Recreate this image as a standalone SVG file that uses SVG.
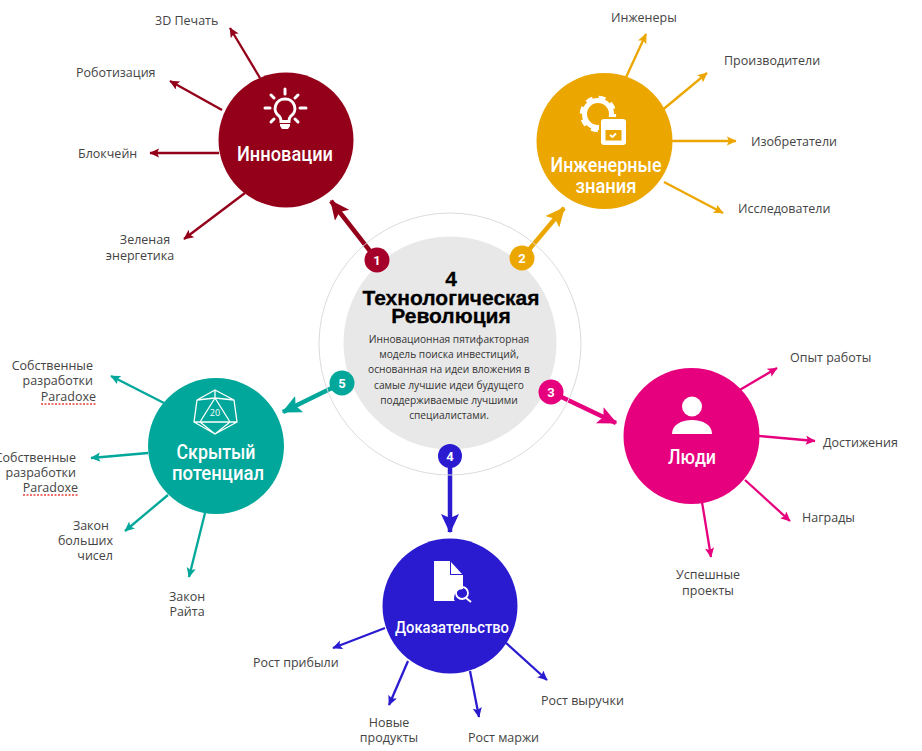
<svg xmlns="http://www.w3.org/2000/svg" width="922" height="751" viewBox="0 0 922 751">
<style>
.l{font:12.5px "Open Sans","Noto Sans",sans-serif;fill:#444}
.m{text-anchor:middle}.e{text-anchor:end}
.t{font:500 20px Roboto,sans-serif;fill:#fff;text-anchor:middle}
.b{font:700 13px Roboto,sans-serif;fill:#fff;text-anchor:middle}
.h{font:700 21px "Liberation Sans",sans-serif;fill:#000;stroke:#000;stroke-width:.3;text-anchor:middle}
.d{font:10.2px "Open Sans","Noto Sans",sans-serif;fill:#333;text-anchor:middle}
.k{fill:none;stroke-linecap:butt}
.n{stroke-width:2.3}.w{stroke-width:4.5}
.r{stroke:#940019}.y{stroke:#eca600}.p{stroke:#e6007e}.u{stroke:#2a1bd0}.g{stroke:#00a79a}
.sq{stroke:#e8403a;stroke-width:1.3;stroke-dasharray:2 1.5;fill:none}
.ic{fill:#fff}.is{fill:none;stroke:#fff;stroke-width:3;stroke-linecap:round;stroke-linejoin:round}
</style>
<defs>
<marker id="ar" markerWidth="5" markerHeight="5" refX="4" refY="2" orient="auto" markerUnits="strokeWidth"><path d="M0 0L4.300 2 0 4 .9 2z" fill="#940019"/></marker>
<marker id="ay" markerWidth="5" markerHeight="5" refX="4" refY="2" orient="auto" markerUnits="strokeWidth"><path d="M0 0L4.300 2 0 4 .9 2z" fill="#eca600"/></marker>
<marker id="ap" markerWidth="5" markerHeight="5" refX="4" refY="2" orient="auto" markerUnits="strokeWidth"><path d="M0 0L4.300 2 0 4 .9 2z" fill="#e6007e"/></marker>
<marker id="au" markerWidth="5" markerHeight="5" refX="4" refY="2" orient="auto" markerUnits="strokeWidth"><path d="M0 0L4.300 2 0 4 .9 2z" fill="#2a1bd0"/></marker>
<marker id="ag" markerWidth="5" markerHeight="5" refX="4" refY="2" orient="auto" markerUnits="strokeWidth"><path d="M0 0L4.300 2 0 4 .9 2z" fill="#00a79a"/></marker>
</defs>
<rect width="922" height="751" fill="#fff"/>
<g id="connectors" class="k">
<path class="k r w" marker-end="url(#ar)" d="M377 260L331 201"/>
<path class="k r n" marker-end="url(#ar)" d="M260 78L230 28"/>
<path class="k r n" marker-end="url(#ar)" d="M222 110L170 81"/>
<path class="k r n" marker-end="url(#ar)" d="M219 153H150"/>
<path class="k r n" marker-end="url(#ar)" d="M245 193L184 239"/>
<path class="k y w" marker-end="url(#ay)" d="M522 258L564 208"/>
<path class="k y n" marker-end="url(#ay)" d="M622 86L646 34"/>
<path class="k y n" marker-end="url(#ay)" d="M660 112L707 73"/>
<path class="k y n" marker-end="url(#ay)" d="M672 141H736"/>
<path class="k y n" marker-end="url(#ay)" d="M664 182L723 213"/>
<path class="k p w" marker-end="url(#ap)" d="M551 392L616 423"/>
<path class="k p n" marker-end="url(#ap)" d="M738 391L777 368"/>
<path class="k p n" marker-end="url(#ap)" d="M759 436L815 441"/>
<path class="k p n" marker-end="url(#ap)" d="M745 480L790 521"/>
<path class="k p n" marker-end="url(#ap)" d="M702 502L711 557"/>
<path class="k u w" marker-end="url(#au)" d="M450 456V532"/>
<path class="k u n" marker-end="url(#au)" d="M385 628L333 648"/>
<path class="k u n" marker-end="url(#au)" d="M408 661L389 705"/>
<path class="k u n" marker-end="url(#au)" d="M470 671L479 717"/>
<path class="k u n" marker-end="url(#au)" d="M505 642L547 680"/>
<path class="k g w" marker-end="url(#ag)" d="M342 383L283 412"/>
<path class="k g n" marker-end="url(#ag)" d="M164 403L111 376"/>
<path class="k g n" marker-end="url(#ag)" d="M148 453L91 458"/>
<path class="k g n" marker-end="url(#ag)" d="M168 495L125 531"/>
<path class="k g n" marker-end="url(#ag)" d="M205 513L189 577"/>
</g>
<g id="center">
<circle cx="450" cy="344" r="131" fill="none" stroke="#dcdcdc" stroke-width="1"/>
<circle cx="450" cy="343" r="106.500" fill="#e8e8e8"/>
<text class="h" x="451" y="286">4</text>
<text class="h" x="451" y="305">Технологическая</text>
<text class="h" x="451" y="323">Революция</text>
<text class="d" x="449" y="343">Инновационная пятифакторная</text>
<text class="d" x="449" y="358">модель поиска инвестиций,</text>
<text class="d" x="449" y="373">основанная на идеи вложения в</text>
<text class="d" x="449" y="389">самые лучшие идеи будущего</text>
<text class="d" x="449" y="404">поддерживаемые лучшими</text>
<text class="d" x="449" y="419">специалистами.</text>
</g>
<g id="badge1"><circle cx="377" cy="260" r="12.500" fill="#a5002a"/><text class="b" x="377" y="265">1</text></g>
<g id="badge2"><circle cx="522" cy="258" r="12.500" fill="#eca600"/><text class="b" x="522" y="263">2</text></g>
<g id="badge3"><circle cx="551" cy="392" r="12.500" fill="#e6007e"/><text class="b" x="551" y="397">3</text></g>
<g id="badge4"><circle cx="450" cy="456" r="12" fill="#2a1bd0"/><text class="b" x="450" y="461">4</text></g>
<g id="badge5"><circle cx="342" cy="383" r="12.500" fill="#00a79a"/><text class="b" x="342" y="388">5</text></g>
<g id="innovation">
<circle cx="286" cy="140" r="67.500" fill="#940019"/>
<path class="is" d="M285 89V94M265 108H270M300 108H306M271 95L274 98M298 95L295 98M271 122L274 119M298 122L295 119"/>
<path d="M285 99a9.500 9.500 0 0 0-5.500 17.500c1 1 1.500 3 1.500 5h8c0-2 .5-4 1.500-5A9.500 9.500 0 0 0 285 99z" fill="none" stroke="#fff" stroke-width="3"/>
<path class="ic" d="M280 124h10v2l-2 3h-6l-2-3z"/>
<text class="t" x="285" y="161" textLength="96" lengthAdjust="spacingAndGlyphs">Инновации</text>
</g>
<g id="engineering">
<circle cx="604.500" cy="141" r="68" fill="#eca600"/>
<circle cx="598" cy="114" r="13.500" fill="none" stroke="#fff" stroke-width="5"/>
<circle cx="598" cy="114" r="16" fill="none" stroke="#fff" stroke-width="4.500" stroke-dasharray="6.600 6"/>
<rect x="599" y="117" width="29" height="30" fill="#eca600"/>
<rect x="601" y="119" width="25" height="26" rx="3" fill="#fff"/>
<rect x="605.500" y="130" width="16" height="10.500" fill="#eca600"/>
<path d="M610 135l2.500 2 3.500-3.500" fill="none" stroke="#fff" stroke-width="2"/>
<text class="t" x="606" y="172" textLength="111" lengthAdjust="spacingAndGlyphs">Инженерные</text>
<text class="t" x="606" y="193" textLength="61" lengthAdjust="spacingAndGlyphs">знания</text>
</g>
<g id="people">
<circle cx="691.500" cy="436" r="68" fill="#e6007e"/>
<circle cx="692" cy="406.500" r="10" fill="#fff"/>
<path class="ic" d="M672 434c0-9 9-14 20-14s20 5 20 14z"/>
<text class="t" x="692" y="464" textLength="48" lengthAdjust="spacingAndGlyphs">Люди</text>
</g>
<g id="proof">
<circle cx="450" cy="606" r="67.500" fill="#2a1bd0"/>
<path class="ic" d="M434 561h16v14h13v14a9 9 0 0 0-9 10q0 1 1 2h-21z"/>
<path class="ic" d="M451 562l11 12h-11z"/>
<circle cx="462" cy="593" r="6" fill="none" stroke="#fff" stroke-width="1.800"/>
<path d="M466 598l5 4" stroke="#fff" stroke-width="2"/>
<text class="t" x="452" y="633" style="font-size:17px" textLength="114" lengthAdjust="spacingAndGlyphs">Доказательство</text>
</g>
<g id="potential">
<circle cx="216" cy="446" r="68" fill="#00a79a"/>
<path d="M215 390L234 400 237 422 215 434 194 422 197 400zM215 390L215 398 200 422M215 398L230 422 237 422M215 398L197 400M215 398L234 400M200 422H230M194 422H200L215 434 230 422" fill="none" stroke="#fff" stroke-width="1.300" stroke-linejoin="round"/>
<text x="215" y="416" style="font:9px 'Open Sans',sans-serif;fill:#fff" text-anchor="middle">20</text>
<text class="t" x="216" y="459" textLength="79" lengthAdjust="spacingAndGlyphs">Скрытый</text>
<text class="t" x="218" y="480" textLength="92" lengthAdjust="spacingAndGlyphs">потенциал</text>
</g>
<g id="labels">
<text class="l" x="155" y="25">3D Печать</text>
<text class="l" x="76" y="77">Роботизация</text>
<text class="l" x="78" y="158">Блокчейн</text>
<text class="l m" x="145" y="244">Зеленая</text>
<text class="l m" x="140" y="260">энергетика</text>
<text class="l" x="611" y="22">Инженеры</text>
<text class="l" x="724" y="65">Производители</text>
<text class="l" x="751" y="146">Изобретатели</text>
<text class="l" x="738" y="213">Исследователи</text>
<text class="l" x="790" y="362">Опыт работы</text>
<text class="l" x="823" y="447">Достижения</text>
<text class="l" x="802" y="522">Награды</text>
<text class="l m" x="708" y="579">Успешные</text>
<text class="l m" x="708" y="595">проекты</text>
<text class="l" x="253" y="667">Рост прибыли</text>
<text class="l m" x="389" y="727">Новые</text>
<text class="l m" x="389" y="742">продукты</text>
<text class="l" x="468" y="742">Рост маржи</text>
<text class="l" x="541" y="705">Рост выручки</text>
<text class="l m" x="187" y="601">Закон</text>
<text class="l m" x="187" y="616">Райта</text>
<text class="l e" x="109" y="530">Закон</text>
<text class="l e" x="113" y="545">больших</text>
<text class="l e" x="113" y="560">чисел</text>
<text class="l e" x="93" y="370">Собственные</text>
<text class="l e" x="93" y="385">разработки</text>
<text class="l e" x="96" y="401">Paradoxe</text>
<path class="sq" d="M41 404H96"/>
<text class="l e" x="76" y="462">Собственные</text>
<text class="l e" x="76" y="477">разработки</text>
<text class="l e" x="78" y="492">Paradoxe</text>
<path class="sq" d="M23 495H78"/>
</g>
</svg>
